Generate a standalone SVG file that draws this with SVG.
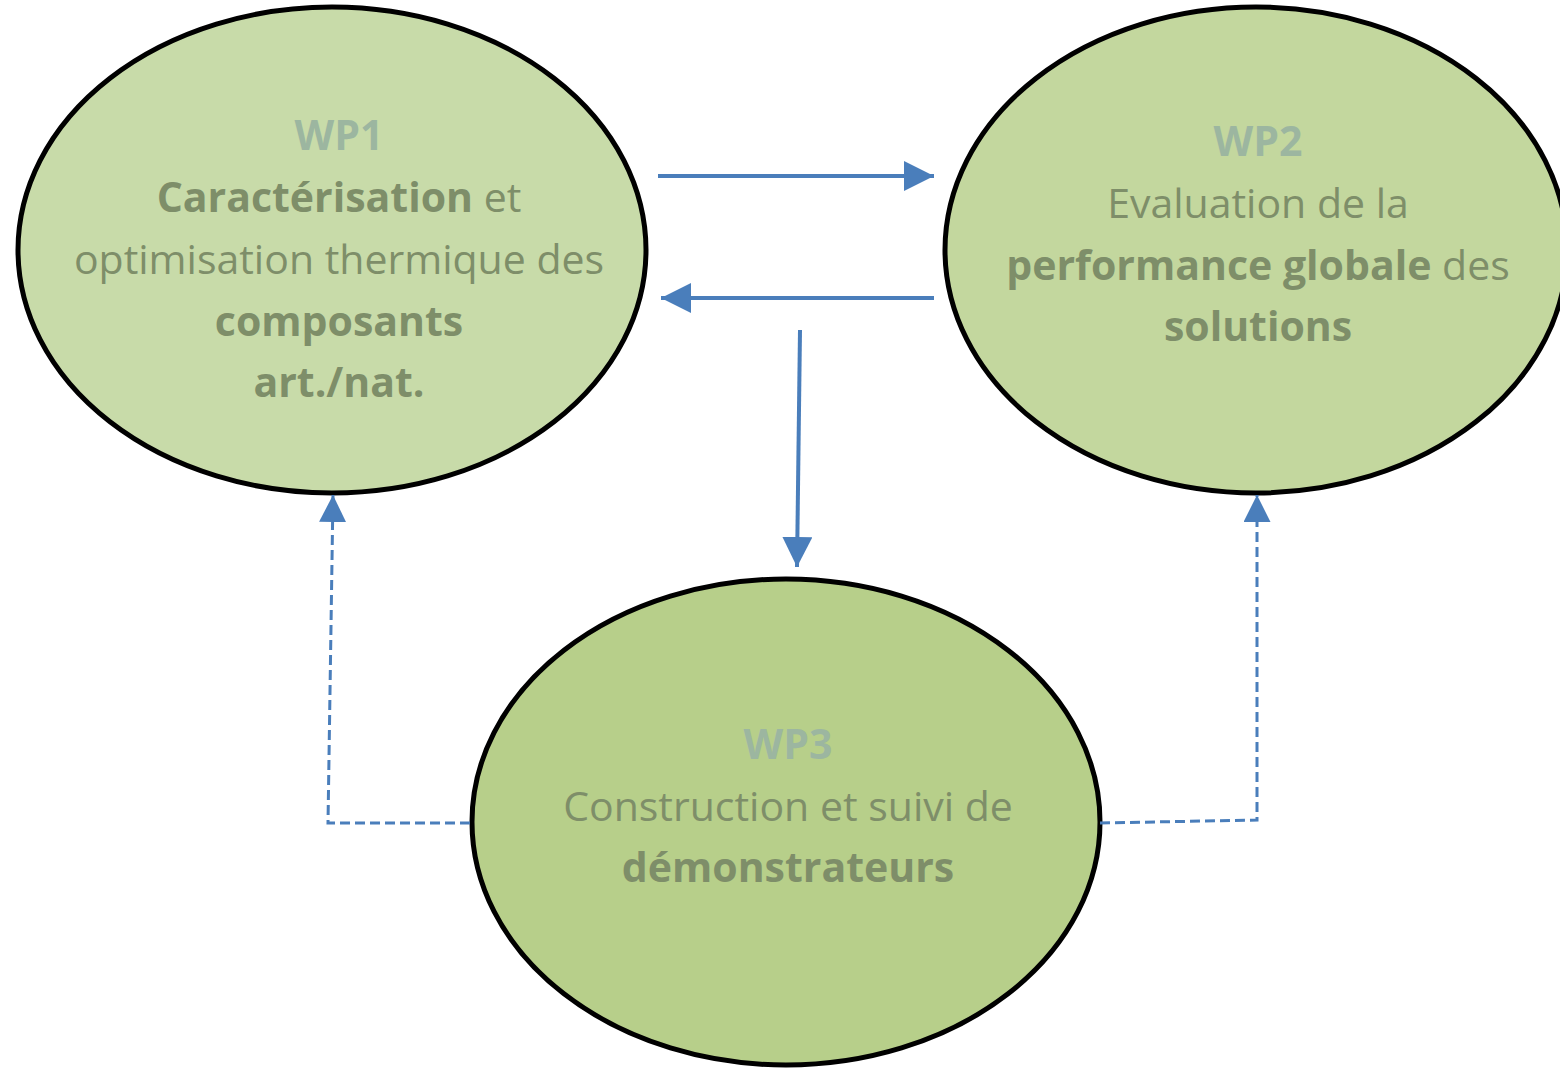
<svg xmlns="http://www.w3.org/2000/svg" width="1560" height="1068" viewBox="0 0 1560 1068">
<defs>
<style>
.node{stroke:#000;stroke-width:5}
.t{font-family:"Open Sans","Noto Sans",sans-serif;font-size:41px;fill:#7e8e69;text-anchor:middle}
.b{font-weight:bold}
.wp{font-weight:bold;fill:#9cb6a0}
.c{stroke:#4a7ebb;stroke-width:4;fill:none}
.d{stroke:#4a7ebb;stroke-width:3;fill:none;stroke-dasharray:10 5}
</style>
<marker id="ah" viewBox="0 0 10 10" refX="10" refY="5" markerWidth="7.5" markerHeight="7.5" markerUnits="strokeWidth" orient="auto"><path d="M0,0 L10,5 L0,10 z" fill="#4a7ebb"/></marker>
<marker id="ahs" viewBox="0 0 10 10" refX="10" refY="5" markerWidth="9" markerHeight="9" markerUnits="strokeWidth" orient="auto"><path d="M0,0 L10,5 L0,10 z" fill="#4a7ebb"/></marker>
</defs>
<rect width="1560" height="1068" fill="#fff"/>
<g id="wp1">
<ellipse class="node" cx="332" cy="250" rx="314" ry="243" fill="#c8dba9"/>
<text class="t wp" x="339" y="150">WP1</text>
<text class="t" x="339" y="212"><tspan class="b">Caractérisation</tspan> et</text>
<text class="t" x="339" y="274">optimisation thermique des</text>
<text class="t b" x="339" y="336">composants</text>
<text class="t b" x="339" y="397">art./nat.</text>
</g>
<g id="wp2">
<ellipse class="node" cx="1256" cy="250" rx="311" ry="243" fill="#c3d79e"/>
<text class="t wp" x="1258" y="156">WP2</text>
<text class="t" x="1258" y="218">Evaluation de la</text>
<text class="t" x="1258" y="280"><tspan class="b">performance globale</tspan> des</text>
<text class="t b" x="1258" y="341">solutions</text>
</g>
<g id="wp3">
<ellipse class="node" cx="786" cy="822" rx="314" ry="243" fill="#b7cf8a"/>
<text class="t wp" x="788" y="759">WP3</text>
<text class="t" x="788" y="821">Construction et suivi de</text>
<text class="t b" x="788" y="882">démonstrateurs</text>
</g>
<g id="connectors">
<path class="c" d="M658,176 H934" marker-end="url(#ah)"/>
<path class="c" d="M934,298 H661" marker-end="url(#ah)"/>
<path class="c" d="M800,330 L797,567" marker-end="url(#ah)"/>
<path class="d" d="M470,823 H328 L333,495" marker-end="url(#ahs)"/>
<path class="d" d="M1100,823 L1257,820 V495" marker-end="url(#ahs)"/>
</g>
</svg>
